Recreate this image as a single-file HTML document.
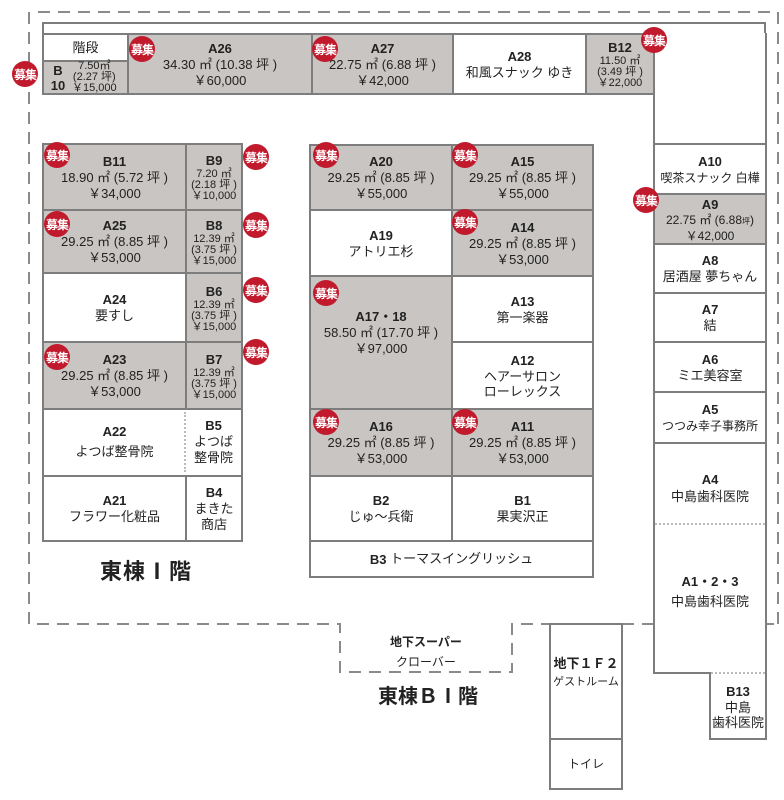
<!DOCTYPE html>
<html><head><meta charset="utf-8"><style>
*{margin:0;padding:0;box-sizing:border-box}
body{width:784px;height:800px;background:#fff;position:relative;overflow:hidden;font-family:"Liberation Sans","Noto Sans CJK JP",sans-serif;color:#222}
.c{position:absolute;border:2px solid #7d7d7d;display:flex;flex-direction:column;align-items:center;justify-content:center;text-align:center;font-size:13px;line-height:16px;background:#fff;white-space:nowrap}
.g{background:#c8c5c2}
.c b{font-size:13px;font-weight:bold;line-height:17px}
.s{font-size:11px;line-height:11px}
.bd{position:absolute;width:26px;height:26px;border-radius:50%;background:#c01a2c;color:#fff;font-size:12px;font-weight:bold;display:flex;align-items:center;justify-content:center;letter-spacing:-1px;font-family:"Noto Sans CJK JP",sans-serif}
.t{position:absolute;font-weight:bold}
svg{position:absolute;left:0;top:0}
</style></head><body>
<svg width="784" height="800"><g fill="none" stroke="#8a8a8a" stroke-width="2" stroke-dasharray="12 8">
<path d="M38 12 H778 V624"/>
<path d="M29 12 V624 H340 V672 H512 V624 H550"/>
<path d="M622 624 H778"/>
</g></svg>

<!-- top strip -->
<div class="c" style="left:42px;top:22px;width:724px;height:14px;border-bottom:none"></div>
<div class="c" style="left:42px;top:33px;width:87px;height:29px">階段</div>
<div class="c g" style="left:42px;top:60px;width:87px;height:35px;flex-direction:row;justify-content:flex-start;padding-left:6px"><b style="line-height:15px;width:16px">B<br>10</b><span class="s" style="padding-left:6px">7.50㎡<br>(2.27 坪)<br>￥15,000</span></div>
<div class="c g" style="left:127px;top:33px;width:186px;height:62px"><b>A26</b>34.30 ㎡ (10.38 坪 )<br>￥60,000</div>
<div class="c g" style="left:311px;top:33px;width:143px;height:62px"><b>A27</b>22.75 ㎡ (6.88 坪 )<br>￥42,000</div>
<div class="c" style="left:452px;top:33px;width:135px;height:62px"><b>A28</b>和風スナック ゆき</div>
<div class="c g" style="left:585px;top:33px;width:70px;height:62px"><b>B12</b><span class="s">11.50 ㎡<br>(3.49 坪 )<br>￥22,000</span></div>

<!-- right column -->
<div class="c" style="left:653px;top:33px;width:114px;height:112px;border-top:none"></div>
<div class="c" style="left:653px;top:143px;width:114px;height:52px;font-size:12px"><b>A10</b>喫茶スナック 白樺</div>
<div class="c g" style="left:653px;top:193px;width:114px;height:52px;line-height:14px;font-size:12px"><b>A9</b><div>22.75 ㎡ (6.88<span style="font-size:8px">坪</span>)<br>￥42,000</div></div>
<div class="c" style="left:653px;top:243px;width:114px;height:51px"><b>A8</b>居酒屋 夢ちゃん</div>
<div class="c" style="left:653px;top:292px;width:114px;height:51px"><b>A7</b>結</div>
<div class="c" style="left:653px;top:341px;width:114px;height:52px"><b>A6</b>ミエ美容室</div>
<div class="c" style="left:653px;top:391px;width:114px;height:53px;font-size:12px"><b>A5</b>つつみ幸子事務所</div>
<div class="c" style="left:653px;top:442px;width:114px;height:232px"></div>
<div style="position:absolute;left:655px;top:471px;width:110px;text-align:center;font-size:13px;line-height:17px"><b>A4</b><br>中島歯科医院</div>
<div style="position:absolute;left:655px;top:523px;width:110px;border-top:2px dotted #bbb"></div>
<div style="position:absolute;left:655px;top:572px;width:110px;text-align:center;font-size:13px;line-height:20px"><b>A1・2・3</b><br>中島歯科医院</div>
<div class="c" style="left:709px;top:672px;width:58px;height:68px;line-height:15px"><b>B13</b>中島<br>歯科医院</div>
<div style="position:absolute;left:711px;top:672px;width:54px;height:4px;background:#fff;border-top:2px dotted #bbb"></div>

<!-- left block -->
<div class="c g" style="left:42px;top:143px;width:145px;height:68px"><b>B11</b>18.90 ㎡ (5.72 坪 )<br>￥34,000</div>
<div class="c g" style="left:185px;top:143px;width:58px;height:68px"><b>B9</b><span class="s">7.20 ㎡<br>(2.18 坪 )<br>￥10,000</span></div>
<div class="c g" style="left:42px;top:209px;width:145px;height:65px"><b>A25</b>29.25 ㎡ (8.85 坪 )<br>￥53,000</div>
<div class="c g" style="left:185px;top:209px;width:58px;height:65px"><b>B8</b><span class="s">12.39 ㎡<br>(3.75 坪 )<br>￥15,000</span></div>
<div class="c" style="left:42px;top:272px;width:145px;height:71px"><b>A24</b>要すし</div>
<div class="c g" style="left:185px;top:272px;width:58px;height:71px"><b>B6</b><span class="s">12.39 ㎡<br>(3.75 坪 )<br>￥15,000</span></div>
<div class="c g" style="left:42px;top:341px;width:145px;height:69px"><b>A23</b>29.25 ㎡ (8.85 坪 )<br>￥53,000</div>
<div class="c g" style="left:185px;top:341px;width:58px;height:69px"><b>B7</b><span class="s">12.39 ㎡<br>(3.75 坪 )<br>￥15,000</span></div>
<div class="c" style="left:42px;top:408px;width:201px;height:69px"></div>
<div style="position:absolute;left:44px;top:422px;width:141px;text-align:center;font-size:13px;line-height:20px"><b>A22</b><br>よつば整骨院</div>
<div style="position:absolute;left:184px;top:412px;height:60px;border-left:2px dotted #bbb"></div>
<div style="position:absolute;left:186px;top:418px;width:55px;text-align:center;font-size:13px;line-height:16px"><b>B5</b><br>よつば<br>整骨院</div>
<div class="c" style="left:42px;top:475px;width:145px;height:67px"><b>A21</b>フラワー化粧品</div>
<div class="c" style="left:185px;top:475px;width:58px;height:67px;line-height:16px"><b>B4</b>まきた<br>商店</div>
<div class="t" style="left:100px;top:554px;font-size:22px;letter-spacing:1px">東棟Ⅰ階</div>

<!-- middle block -->
<div class="c g" style="left:309px;top:144px;width:144px;height:67px"><b>A20</b>29.25 ㎡ (8.85 坪 )<br>￥55,000</div>
<div class="c g" style="left:451px;top:144px;width:143px;height:67px"><b>A15</b>29.25 ㎡ (8.85 坪 )<br>￥55,000</div>
<div class="c" style="left:309px;top:209px;width:144px;height:68px"><b>A19</b>アトリエ杉</div>
<div class="c g" style="left:451px;top:209px;width:143px;height:68px"><b>A14</b>29.25 ㎡ (8.85 坪 )<br>￥53,000</div>
<div class="c g" style="left:309px;top:275px;width:144px;height:135px;padding-bottom:20px"><b>A17・18</b>58.50 ㎡ (17.70 坪 )<br>￥97,000</div>
<div class="c" style="left:451px;top:275px;width:143px;height:68px"><b>A13</b>第一楽器</div>
<div class="c" style="left:451px;top:341px;width:143px;height:69px;line-height:15px"><b>A12</b>ヘアーサロン<br>ローレックス</div>
<div class="c g" style="left:309px;top:408px;width:144px;height:69px"><b>A16</b>29.25 ㎡ (8.85 坪 )<br>￥53,000</div>
<div class="c g" style="left:451px;top:408px;width:143px;height:69px"><b>A11</b>29.25 ㎡ (8.85 坪 )<br>￥53,000</div>
<div class="c" style="left:309px;top:475px;width:144px;height:67px"><b>B2</b>じゅ～兵衛</div>
<div class="c" style="left:451px;top:475px;width:143px;height:67px"><b>B1</b>果実沢正</div>
<div class="c" style="left:309px;top:540px;width:285px;height:38px;flex-direction:row"><b>B3</b>&nbsp;トーマスイングリッシュ</div>

<!-- basement -->
<div style="position:absolute;left:341px;top:632px;width:170px;text-align:center;font-size:12px;line-height:20px"><b>地下スーパー</b><br>クローバー</div>
<div class="t" style="left:378px;top:680px;font-size:20px">東棟ＢⅠ階</div>
<div class="c" style="left:549px;top:623px;width:74px;height:117px;justify-content:flex-start;padding-top:30px;line-height:20px;font-size:11px"><b style="font-size:13px">地下１Ｆ２</b>ゲストルーム</div>
<div class="c" style="left:549px;top:738px;width:74px;height:52px;font-size:12px">トイレ</div>

<!-- badges -->
<div class="bd" style="left:12px;top:61px">募集</div>
<div class="bd" style="left:129px;top:36px">募集</div>
<div class="bd" style="left:312px;top:36px">募集</div>
<div class="bd" style="left:641px;top:27px">募集</div>
<div class="bd" style="left:44px;top:142px">募集</div>
<div class="bd" style="left:243px;top:144px">募集</div>
<div class="bd" style="left:313px;top:142px">募集</div>
<div class="bd" style="left:452px;top:142px">募集</div>
<div class="bd" style="left:633px;top:187px">募集</div>
<div class="bd" style="left:44px;top:211px">募集</div>
<div class="bd" style="left:243px;top:212px">募集</div>
<div class="bd" style="left:452px;top:209px">募集</div>
<div class="bd" style="left:243px;top:277px">募集</div>
<div class="bd" style="left:313px;top:280px">募集</div>
<div class="bd" style="left:44px;top:344px">募集</div>
<div class="bd" style="left:243px;top:339px">募集</div>
<div class="bd" style="left:313px;top:409px">募集</div>
<div class="bd" style="left:452px;top:409px">募集</div>
</body></html>
